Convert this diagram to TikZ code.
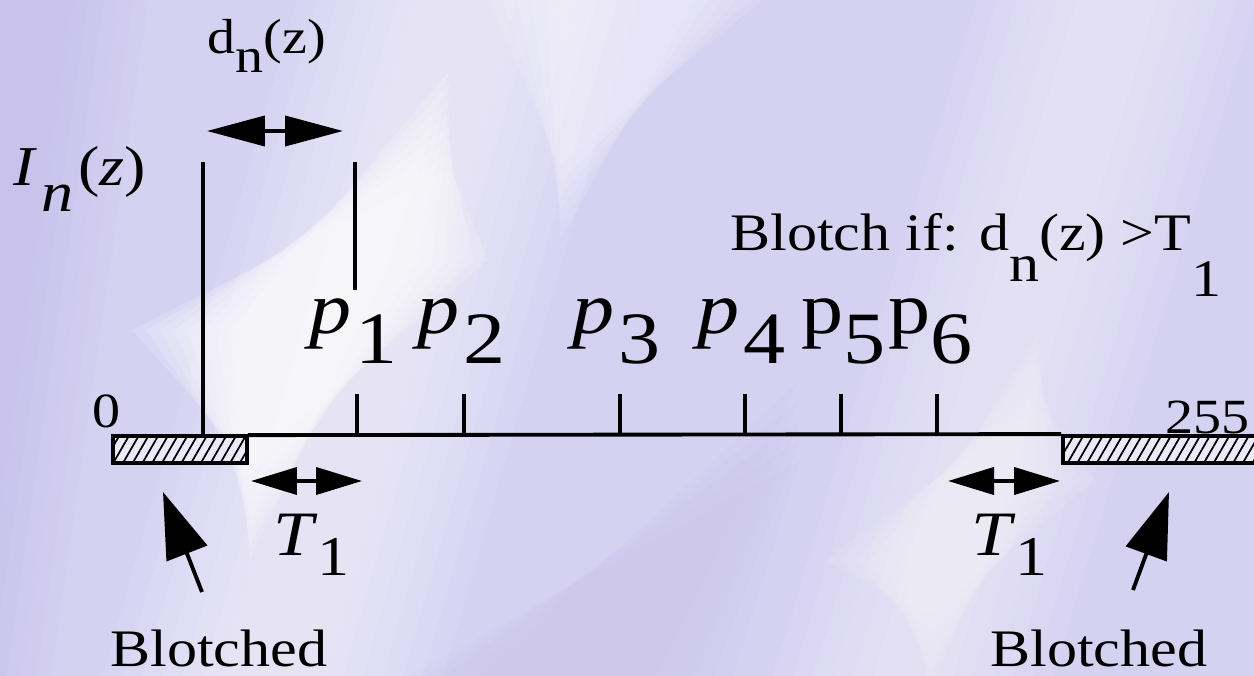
\documentclass[tikz,border=0pt]{standalone}
\usepackage{fontspec}
\setmainfont[FakeStretch=1.14]{Liberation Serif}
\usetikzlibrary{arrows.meta,patterns.meta,positioning}

\definecolor{lavbg}{RGB}{213,209,241}
\definecolor{lavdeep}{RGB}{194,188,236}
\definecolor{boxfill}{RGB}{236,234,248}

% lowered subscript at full size
\newcommand{\lsub}[2]{\raisebox{-#1em}{#2}}

\tikzset{
  thickline/.style={line width=2.2pt},
  hatchbox/.style={rectangle,draw,line width=2.2pt,inner sep=0pt,
    minimum height=0.54cm,preaction={fill=boxfill},
    pattern={Lines[angle=60,distance=4.8pt,line width=1pt]}},
  lbl/.style={inner sep=0pt,anchor=base west,font=\fontsize{30}{36}\selectfont},
  plbl/.style={lbl,font=\fontsize{42}{48}\selectfont},
  tlbl/.style={lbl,font=\fontsize{36}{42}\selectfont},
  dArr/.style={thickline,{Triangle[length=1.16cm,width=0.6cm]}-{Triangle[length=1.16cm,width=0.6cm]}},
  tArr/.style={thickline,{Triangle[length=0.92cm,width=0.54cm]}-{Triangle[length=0.92cm,width=0.54cm]}},
  ptrArr/.style={thickline,-{Triangle[length=1.32cm,width=0.86cm]}},
  streak/.style={white,opacity=#1}
}

\begin{document}
\begin{tikzpicture}[x=0.02cm,y=-0.02cm]
% background
\useasboundingbox (0,0) rectangle (1254,676);
\clip (0,0) rectangle (1254,676);
\fill[lavbg] (0,0) rectangle (1254,676);
\foreach \w in {0,15,...,90}
  \fill[lavdeep,opacity=0.12] (-10,-10) -- (60+\w,-10) -- (\w-40,686) -- (-10,686) -- cycle;
\foreach \w in {0,20,...,120}
  \fill[streak=0.09] (220-\w,686) -- (320+\w,686) -- (520+\w,-10) -- (420-\w,-10) -- cycle;
\foreach \w in {0,14,...,98}
  \fill[streak=0.16] (250,560-\w) -- (230-\w,330) -- (450,70+\w) -- (390+\w,260) -- cycle;
\foreach \w in {0,15,...,75}
  \fill[streak=0.1] (560-\w,-10) -- (700+\w,-10) -- (560,240-\w) -- cycle;
\foreach \w in {0,20,...,100}
  \fill[streak=0.08] (870-\w,686) -- (950+\w,686) -- (1160+\w,-10) -- (1080-\w,-10) -- cycle;
\foreach \w in {0,15,...,75}
  \fill[streak=0.08] (930,690-\w) -- (900-\w,560) -- (1040,330+\w) -- (1020+\w,480) -- cycle;
\foreach \w in {0,20,...,80}
  \fill[lavdeep,opacity=0.07] (470-\w,686) -- (650+\w,686) -- (800,380+\w) -- cycle;

% blotched ranges and grey-level axis
\node[hatchbox,minimum width=2.68cm] (lbox) at (180,449.5) {};
\node[hatchbox,minimum width=3.98cm] (rbox) at (1162.5,449.5) {};
\draw[thickline] (lbox.north east) -- (rbox.north west);
\node[lbl,font=\fontsize{28}{34}\selectfont] (zero) at (92,427) {0};
\node[lbl,font=\fontsize{28}{34}\selectfont,anchor=base east] (top) at (1250,433) {255};

% ticks and their labels
\foreach \x [count=\i] in {357,464,620,745,841,937}
  \coordinate (tk\i) at (\x,436);
\foreach \i in {1,...,6}
  \draw[thickline] (tk\i) -- ++(0,-42);
\node[plbl] (p1) at (309,333) {\textit{p}\hspace{0.06em}\lsub{0.42}{1}};
\node[plbl] (p2) at (417,333) {\textit{p}\hspace{0.06em}\lsub{0.42}{2}};
\node[plbl] (p3) at (572,333) {\textit{p}\hspace{0.06em}\lsub{0.42}{3}};
\node[plbl] (p4) at (697,333) {\textit{p}\hspace{0.06em}\lsub{0.42}{4}};
\node[plbl] (p5) at (801,333) {p\lsub{0.42}{5}};
\node[plbl] (p6) at (888,333) {p\lsub{0.42}{6}};

% pixel value and its distance to p1
\coordinate (itop) at (203,162);
\draw[thickline] (itop) -- (itop |- lbox.north);
\coordinate (dtop) at (355,162);
\coordinate (dbot) at (355,290);
\draw[thickline] (dtop) -- (dbot);
\node[lbl,font=\fontsize{32}{38}\selectfont] (inz) at (13,185)
  {\textit{I}\hspace{0.08em}\lsub{0.48}{\textit{n}}\hspace{0.08em}(\textit{z})};
\coordinate (da) at (207,131);
\coordinate (db) at (343,131);
\draw[dArr] (da) -- (db);
\node[lbl,font=\fontsize{28}{34}\selectfont] (dnz) at (207,53) {d\lsub{0.4}{n}(z)};
\node[lbl] (rule) at (730,250) {Blotch if: d\lsub{0.6}{n}(z) >T\lsub{0.89}{1}};

% thresholds
\coordinate (ta1) at (251,481);
\coordinate (tb1) at (362,481);
\draw[tArr] (ta1) -- (tb1);
\node[tlbl] (t1l) at (273,555) {\textit{T}{\fontsize{32}{36}\selectfont\lsub{0.36}{1}}};
\coordinate (ta2) at (948,481);
\coordinate (tb2) at (1060,481);
\draw[tArr] (ta2) -- (tb2);
\node[tlbl] (t1r) at (971,555) {\textit{T}{\fontsize{32}{36}\selectfont\lsub{0.36}{1}}};

% pointers to blotched ranges
\node[lbl] (bl) at (110,666) {Blotched};
\node[lbl] (br) at (990,666) {Blotched};
\coordinate (pa1) at (202,592);
\coordinate (pb1) at (163,492);
\draw[ptrArr] (pa1) -- (pb1);
\coordinate (pa2) at (1133,590);
\coordinate (pb2) at (1169,492);
\draw[ptrArr] (pa2) -- (pb2);
\end{tikzpicture}
\end{document}
